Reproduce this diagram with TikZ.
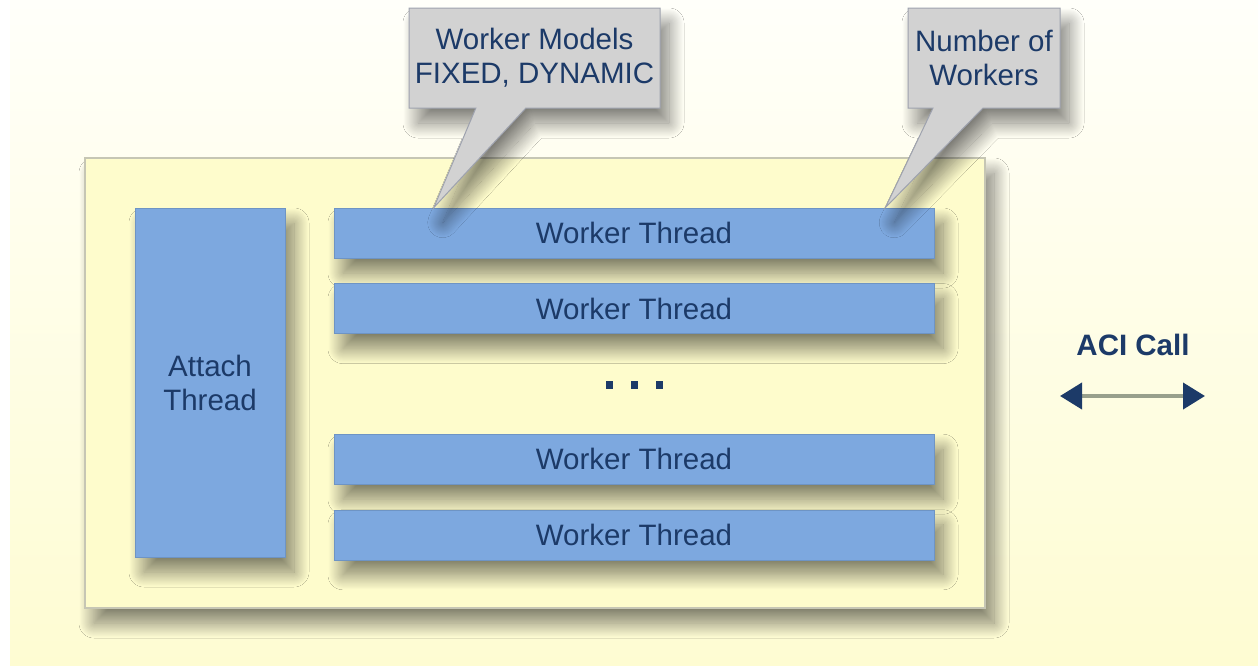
\documentclass[tikz,border=0pt]{standalone}
\usepackage{fontspec}
\setmainfont{Liberation Sans}
\usetikzlibrary{positioning,calc,shapes.callouts,shadows.blur,arrows.meta}

\definecolor{bgtop}{HTML}{FFFFFA}
\definecolor{bgbottom}{HTML}{FEFCD2}
\definecolor{panelfill}{HTML}{FEFCCC}
\definecolor{panelline}{HTML}{C6C6B4}
\definecolor{threadblue}{HTML}{7DA8DF}
\definecolor{notegray}{HTML}{D2D2D2}
\definecolor{noteline}{HTML}{9EA2AE}
\definecolor{navytext}{HTML}{1C3A68}
\definecolor{aciline}{HTML}{98A08C}

\begin{document}
\begin{tikzpicture}[
    x=1pt, y=-1pt,
    node distance=25pt,
    every node/.style = {font=\fontsize{29.5}{34}\selectfont, text=navytext, align=center, inner sep=0pt},
    softshadow/.style = {blur shadow={shadow xshift=9pt, shadow yshift=-15pt, shadow blur radius=15pt, shadow blur steps=30, shadow opacity=50}},
    pool/.style = {rectangle, fill=panelfill, draw=panelline, line width=1.2pt, softshadow},
    thread/.style = {rectangle, fill=threadblue, draw=threadblue!88!black, line width=0.6pt, minimum width=600pt, minimum height=50pt, softshadow},
    note/.style = {rectangle callout, fill=notegray, draw=noteline, line width=1pt, minimum height=100pt, callout pointer width=50pt, softshadow},
    dot/.style = {fill=navytext},
    aciarrow/.style = {line width=4pt, draw=aciline, {Triangle[length=22pt,width=26pt,color=navytext]}-{Triangle[length=22pt,width=26pt,color=navytext]}}
  ]
  % background
  \fill[white] (0,0) rectangle (1258,665);
  \shade[top color=bgtop, bottom color=bgbottom] (10,0) rectangle (1258,665);
  \useasboundingbox (0,0) rectangle (1258,665);

  % pool with threads
  \node[pool, minimum width=900pt, minimum height=450pt] (pool) at (535,383) {};
  \node[thread, minimum width=150pt, minimum height=349pt] (attach) at (210,382.5) {Attach\\Thread};
  \node[thread] (w1) at (634,233) {Worker Thread};
  \node[thread, below=of w1] (w2) {Worker Thread};
  \node[thread, below=100pt of w2] (w3) {Worker Thread};
  \node[thread, below=of w3] (w4) {Worker Thread};
  \foreach \dx in {-25,0,25}
    \fill[dot] (634+\dx-3.5,381) rectangle ++(7,8);

  % callouts
  \node[note, minimum width=251pt, callout absolute pointer={($(w1.north west)+(100,0)$)}] (models) at (534.5,58) {Worker Models\\FIXED, DYNAMIC};
  \node[note, minimum width=152pt, callout absolute pointer={($(w1.north east)+(-49,0)$)}] (count) at (984,58) {Number of\\Workers};

  % ACI call
  \node[font=\fontsize{29.5}{34}\selectfont\bfseries] (aci) at (1133,345) {ACI Call};
  \coordinate (aciL) at (1060,396);
  \coordinate (aciR) at (1205,396);
  \draw[aciarrow] (aciL) -- (aciR);
\end{tikzpicture}
\end{document}
